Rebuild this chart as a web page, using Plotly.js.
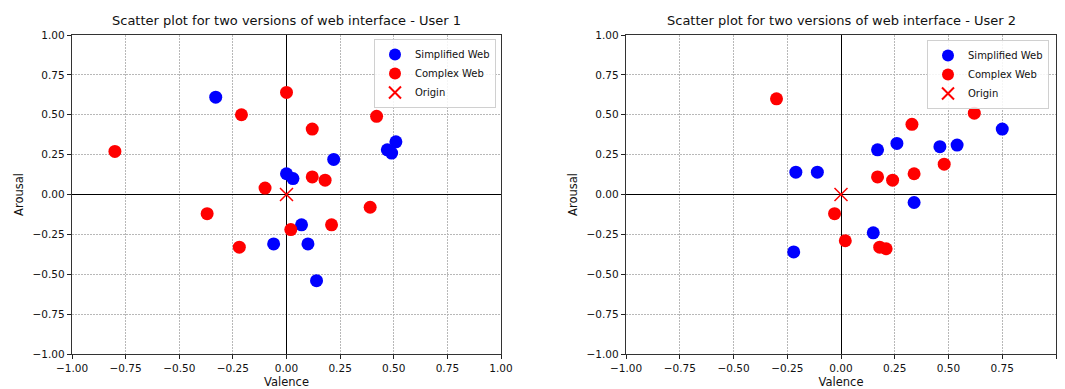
<!DOCTYPE html>
<html>
<head>
<meta charset="utf-8">
<script src="https://cdn.plot.ly/plotly-3.0.1.min.js"></script>
<style>html,body{margin:0;padding:0;background:#fff;}#chart{width:1065px;height:389px;}</style>
</head>
<body>
<div id="chart"></div>
<script>
// User 1
const u1SimpleValence = [-0.33, 0.00, 0.03, 0.22, 0.47, 0.49, 0.51, 0.07, -0.06, 0.10, 0.14];
const u1SimpleArousal = [0.61, 0.13, 0.10, 0.22, 0.28, 0.26, 0.33, -0.19, -0.31, -0.31, -0.54];
const u1ComplexValence = [0.00, -0.21, -0.80, 0.12, 0.42, -0.10, 0.12, 0.18, -0.37, 0.39, 0.02, 0.21, -0.22];
const u1ComplexArousal = [0.64, 0.50, 0.27, 0.41, 0.49, 0.04, 0.11, 0.09, -0.12, -0.08, -0.22, -0.19, -0.33];
// User 2
const u2SimpleValence = [-0.21, -0.11, -0.22, 0.17, 0.26, 0.46, 0.54, 0.75, 0.34, 0.15];
const u2SimpleArousal = [0.14, 0.14, -0.36, 0.28, 0.32, 0.30, 0.31, 0.41, -0.05, -0.24];
const u2ComplexValence = [-0.30, 0.33, 0.62, 0.48, 0.34, 0.17, 0.24, -0.03, 0.02, 0.18, 0.21];
const u2ComplexArousal = [0.60, 0.44, 0.51, 0.19, 0.13, 0.11, 0.09, -0.12, -0.29, -0.33, -0.34];
const origin = [0];
const titles = ["Scatter plot for two versions of web interface - User 1",
                "Scatter plot for two versions of web interface - User 2"];
const seriesNames = ["Simplified Web", "Complex Web", "Origin"];
const tickValues = [-1, -0.75, -0.5, -0.25, 0, 0.25, 0.5, 0.75, 1];

const font = "DejaVu Sans, sans-serif";
function sets(xa, ya, leg, sx, sy, cx, cy) {
  return [
    {type:'scatter', mode:'markers', x:sx, y:sy, xaxis:xa, yaxis:ya, legend:leg, name:seriesNames[0],
     marker:{color:'#0000ff', size:13, line:{width:0}}},
    {type:'scatter', mode:'markers', x:cx, y:cy, xaxis:xa, yaxis:ya, legend:leg, name:seriesNames[1],
     marker:{color:'#ff0000', size:13, line:{width:0}}},
    {type:'scatter', mode:'markers', x:origin, y:origin, xaxis:xa, yaxis:ya, legend:leg, name:seriesNames[2],
     marker:{color:'#ff0000', size:13, symbol:'x-thin-open', line:{color:'#ff0000', width:1.5}}}
  ];
}
const data = [
  ...sets('x','y','legend', u1SimpleValence, u1SimpleArousal, u1ComplexValence, u1ComplexArousal),
  ...sets('x2','y2','legend2', u2SimpleValence, u2SimpleArousal, u2ComplexValence, u2ComplexArousal)
];
function ax(domain, anchor, titleText, standoff) {
  return {
    domain: domain, anchor: anchor, range:[-1,1], autorange:false,
    tickvals: tickValues, tickformat:'.2f', ticks:'outside', ticklen:4, tickwidth:1, tickcolor:'#222',
    showline:true, mirror:true, linecolor:'#333', linewidth:1.2,
    showgrid:true, gridcolor:'#b8b8b8', griddash:'2px,1px', gridwidth:1,
    zeroline:true, zerolinecolor:'#000', zerolinewidth:1,
    tickfont:{family:font, size:10.5, color:'#111'},
    title:{text:titleText, font:{family:font, size:11.5, color:'#111'}, standoff:standoff},
    automargin:false, fixedrange:true
  };
}
const yd = [1-354/389, 1-35/389];
const legendBase = {bgcolor:'rgba(255,255,255,0.85)', bordercolor:'#d0d0d0', borderwidth:1,
  font:{family:font, size:10, color:'#111'}, xanchor:'right', yanchor:'top', itemsizing:'constant', tracegroupgap:0};
const layout = {
  width:1065, height:389, margin:{l:0,r:0,t:0,b:0}, paper_bgcolor:'#fff', plot_bgcolor:'#fff',
  showlegend:true,
  xaxis: ax([72/1065, 501/1065], 'y', 'Valence', 6),
  yaxis: ax(yd, 'x', 'Arousal', 6),
  xaxis2: ax([626/1065, 1056/1065], 'y2', 'Valence', 6),
  yaxis2: ax(yd, 'x2', 'Arousal', 6),
  legend: Object.assign({x:496/1065, y:1-39/389}, legendBase),
  legend2: Object.assign({x:1049/1065, y:1-40/389}, legendBase),
  annotations: [
    {text:titles[0], xref:'paper', yref:'paper', x:(72+501)/2/1065, y:1-21/389, xanchor:'center', yanchor:'middle', showarrow:false,
     font:{family:font, size:13, color:'#111'}},
    {text:titles[1], xref:'paper', yref:'paper', x:(626+1056)/2/1065, y:1-21/389, xanchor:'center', yanchor:'middle', showarrow:false,
     font:{family:font, size:13, color:'#111'}}
  ]
};
Plotly.newPlot('chart', data, layout, {staticPlot:true, displayModeBar:false});
</script>
</body>
</html>
